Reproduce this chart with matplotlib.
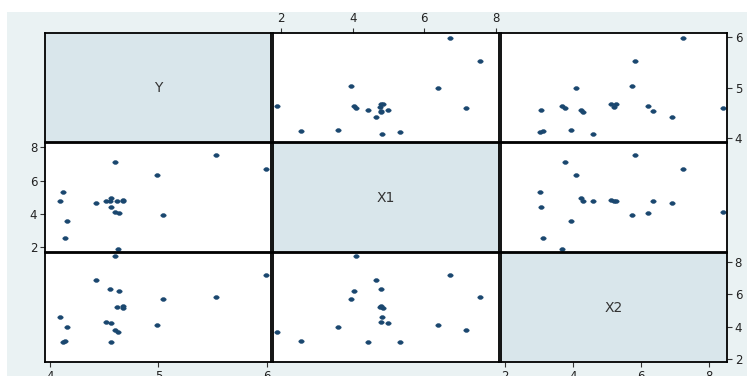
import matplotlib.pyplot as plt
import numpy as np
from matplotlib.patches import Rectangle

Y = [5.99, 5.53, 5.04, 4.99, 4.63, 4.64, 4.60, 4.56, 4.56, 4.52,
     4.42, 4.60, 4.14, 4.16, 4.09, 4.12, 4.67, 4.62, 4.67, 4.55]
X1 = [6.71, 7.55, 3.96, 6.37, 1.90, 4.04, 4.10, 4.44, 4.99, 4.79,
      4.66, 7.15, 2.57, 3.58, 4.81, 5.33, 4.86, 4.76, 4.80, 4.78]
X2 = [7.24, 5.83, 5.74, 4.10, 3.68, 6.21, 8.40, 3.07, 4.23, 4.29,
      6.90, 3.77, 3.12, 3.95, 4.58, 3.02, 5.13, 5.21, 5.27, 6.34]
names = ['Y', 'X1', 'X2']
ticks = {'Y': [4, 5, 6], 'X1': [2, 4, 6, 8], 'X2': [2, 4, 6, 8]}

data = {'Y': Y, 'X1': X1, 'X2': X2}
xlims = {'Y': (3.954, 6.037), 'X1': (1.777, 8.084), 'X2': (1.88, 8.53)}
ylims = {'Y': (3.927, 6.085), 'X1': (1.72, 8.26), 'X2': (1.80, 8.58)}

W, H = 747, 376
fig = plt.figure(figsize=(W / 100, H / 100), dpi=100)
fig.patches.append(Rectangle((7 / W, 0), 1, 1 - 12 / H, transform=fig.transFigure,
                             facecolor='#eaf2f3', edgecolor='none', zorder=-10))

cols = [(45, 271), (273, 499), (501, 727)]
rows = [(33, 142), (143, 252), (253, 362)]

t = np.linspace(0, 2 * np.pi, 24)
dot = list(zip(1.45 * np.cos(t), np.sin(t)))

navy = '#1a476f'
txt = '#222222'

for i, rn in enumerate(names):
    for j, cn in enumerate(names):
        x0, x1 = cols[j]
        y0, y1 = rows[i]
        ax = fig.add_axes([x0 / W, 1 - y1 / H, (x1 - x0) / W, (y1 - y0) / H])
        ax.set_xlim(*xlims[cn])
        ax.set_ylim(*ylims[rn])
        for s in ax.spines.values():
            s.set_linewidth(1.3)
            s.set_color('black')
        if i == j:
            ax.set_facecolor('#d9e6eb')
            ax.text(0.5, 0.5, rn, transform=ax.transAxes, ha='center', va='center',
                    fontsize=10, color='#333333')
        else:
            ax.set_facecolor('white')
            ax.plot(data[cn], data[rn], linestyle='none', marker=dot,
                    markersize=3.9, markeredgewidth=0.4, color=navy, clip_on=False)
        ax.set_xticks([])
        ax.set_yticks([])
        ax.tick_params(length=3.5, width=0.8, color='#333333', labelsize=8.5,
                       labelcolor=txt, pad=2)
        # alternating axes as in a Stata graph matrix
        if i == 0 and j == 1:
            ax.set_xticks(ticks[cn])
            ax.xaxis.tick_top()
        if i == 2 and j in (0, 2):
            ax.set_xticks(ticks[cn])
            ax.xaxis.tick_bottom()
        if j == 0 and i == 1:
            ax.set_yticks(ticks[rn])
            ax.yaxis.tick_left()
        if j == 2 and i in (0, 2):
            ax.set_yticks(ticks[rn])
            ax.yaxis.tick_right()

fig.savefig('out.png', dpi=100)
